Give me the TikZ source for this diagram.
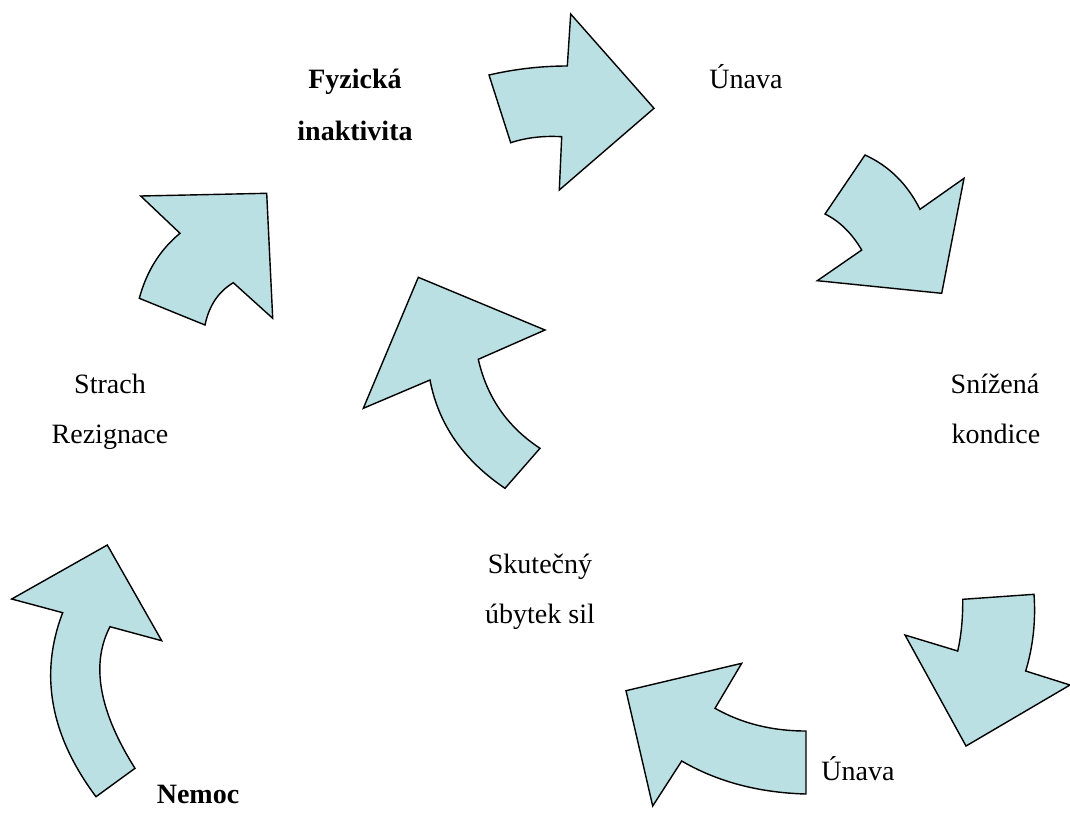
\documentclass[tikz,border=0pt]{standalone}
\usepackage{fontspec}
\setmainfont{Liberation Serif}
\definecolor{arrowfill}{RGB}{186,224,227}
\begin{document}
\begin{tikzpicture}[x=1pt,y=-1pt,
  bigarrow/.style={fill=arrowfill,draw=black,line width=1.4pt,line join=miter},
  lbl/.style={anchor=base,inner sep=0pt,font=\fontsize{28}{34}\selectfont},
  lblb/.style={anchor=base,inner sep=0pt,font=\fontsize{28}{34}\selectfont\bfseries}]
\useasboundingbox (0,0) rectangle (1070,820);

% arrow 1 (top, pointing right)
\draw[bigarrow] (489,75) .. controls (515,69) and (541.1,66) .. (567.3,66) -- (570.7,14) -- (654,108.3)
  -- (559.3,190) -- (561.7,136.7) .. controls (543.2,135.6) and (526.2,137.6) .. (510.7,142.7) -- cycle;

% arrow 2 (top right, pointing down-right)
\draw[bigarrow] (865,155) .. controls (889,165.9) and (907.3,184) .. (920,209.3) -- (964,178.3) -- (941.7,293.3)
  -- (817.3,280.7) -- (861.7,250) .. controls (851.7,233.1) and (839.5,221.1) .. (825,214) -- cycle;

% arrow 3 (left top, pointing up-right)
\draw[bigarrow] (140.7,196) -- (266.7,193.3) -- (272.7,318.3) -- (233.3,282.7)
  .. controls (218.4,291.6) and (209,305.7) .. (205,325) -- (139.3,298.3)
  .. controls (146.6,271.2) and (160.2,249.5) .. (180,233.3) -- cycle;

% arrow 4 (centre, pointing up-left)
\draw[bigarrow] (418.3,277.3) -- (545,330) -- (478.3,359.3)
  .. controls (486.8,397.1) and (507.3,426.8) .. (540,448.3)
  -- (505,488.3) .. controls (463.3,460.1) and (438.3,424) .. (430,380) -- (363.3,408.3) -- cycle;

% arrow 5 (bottom left, pointing up)
\draw[bigarrow] (11.7,599) -- (107.3,545) -- (161.7,640.7) -- (110,626.7)
  .. controls (90.6,663.9) and (98.9,711.1) .. (135,768.3) -- (96,796.7)
  .. controls (50.2,735.4) and (39.1,674) .. (62.7,612.7) -- cycle;

% arrow 6 (bottom centre, pointing left)
\draw[bigarrow] (741.7,663.3) -- (715,708.3) .. controls (741.7,723.4) and (772,731) .. (806,731) -- (806,794)
  .. controls (758.7,792.7) and (717.2,781.7) .. (681.7,761) -- (652.7,806) -- (626,690.7) -- cycle;

% arrow 7 (bottom right, pointing down)
\draw[bigarrow] (962.7,599.3) -- (1034,594.3) .. controls (1035.9,620.8) and (1033.1,646.3) .. (1025.7,671)
  -- (1070,685) -- (966,746) -- (905,635) -- (957.7,651)
  .. controls (961.2,635.7) and (962.9,618.4) .. cycle;

% labels
\node[lblb] (fyz1) at (355,88) {Fyzická};
\node[lblb] (fyz2) at (355,140) {inaktivita};
\node[lbl] (unava1) at (746,88) {Únava};
\node[lbl] (strach) at (110,393) {Strach};
\node[lbl] (rez) at (110,443) {Rezignace};
\node[lbl] (sniz) at (995,393) {Snížená};
\node[lbl] (kond) at (996,443) {kondice};
\node[lbl] (skut) at (540,573) {Skutečný};
\node[lbl] (ubyt) at (540,623) {úbytek sil};
\node[lbl] (unava2) at (858,780) {Únava};
\node[lblb] (nemoc) at (198,803) {Nemoc};
\end{tikzpicture}
\end{document}
